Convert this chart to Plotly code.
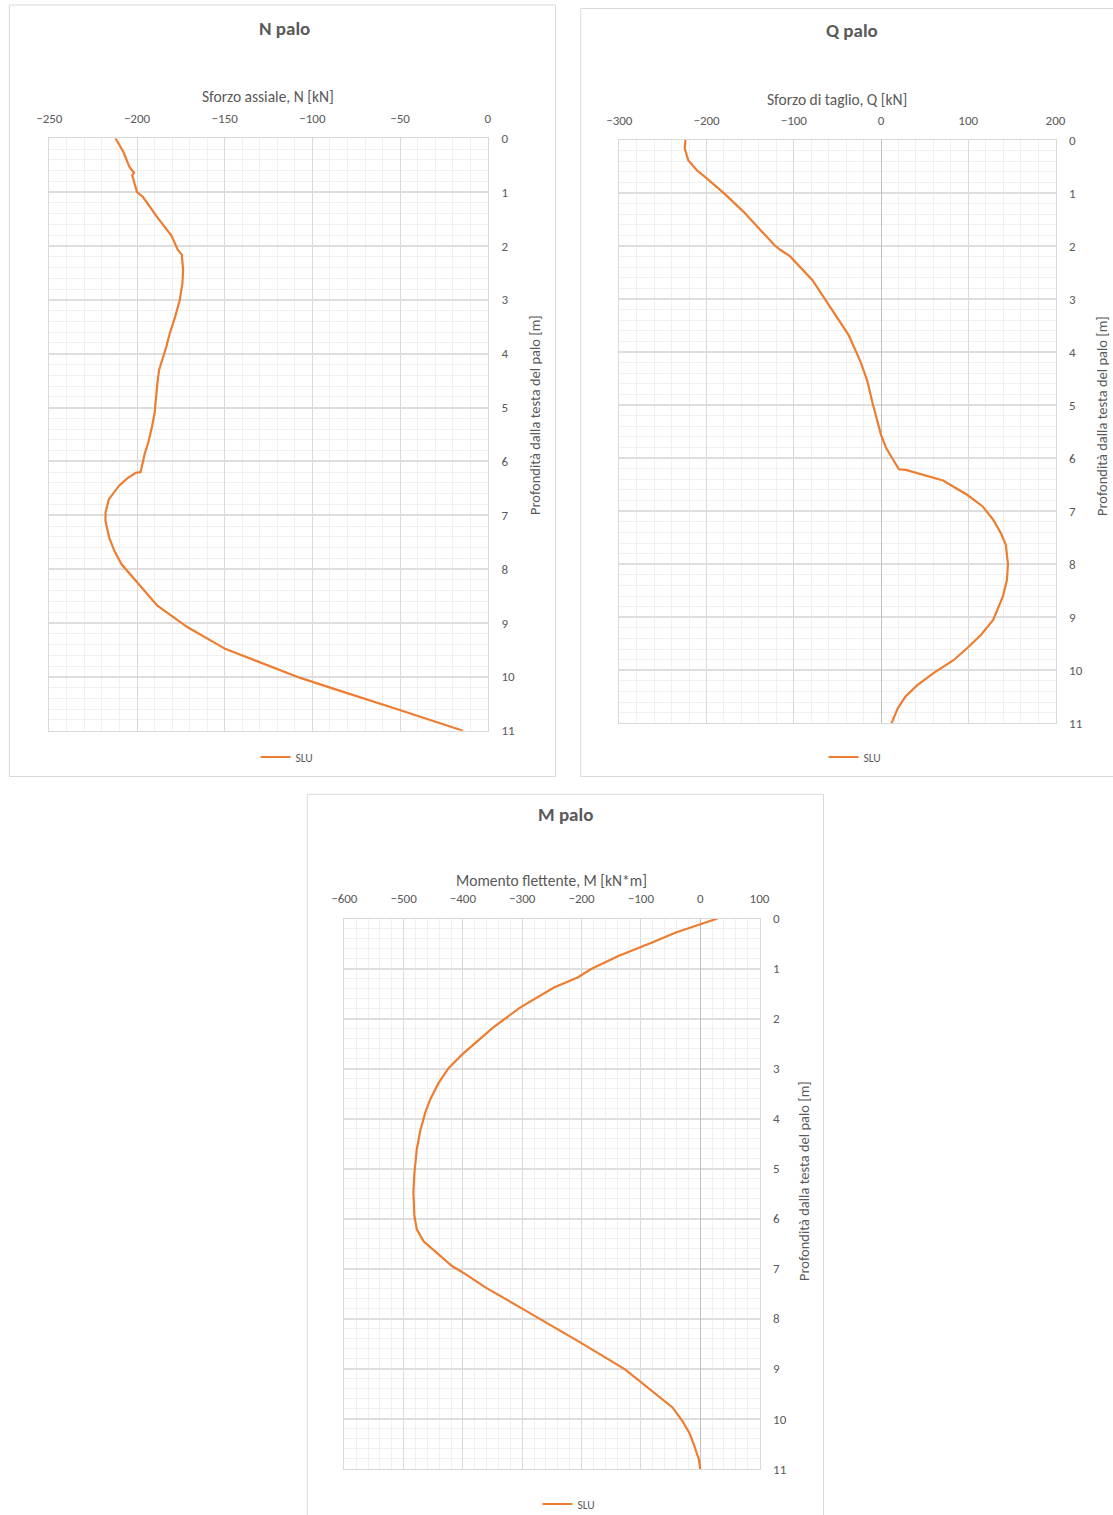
import plotly.graph_objects as go

# ---------------- data ----------------
N_depth = [0, 0.25, 0.53, 0.64, 0.69, 1.0, 1.09, 1.47, 1.81, 2.07, 2.16, 2.44, 2.69, 3.0, 3.31, 3.62,
           3.87, 4.30, 4.55, 5.11, 5.36, 5.64, 5.86, 6.20, 6.21, 6.32, 6.45, 6.70, 6.94, 7.10, 7.41,
           7.66, 7.91, 8.25, 8.68, 9.08, 9.48, 9.57, 9.76, 10.02, 10.28, 10.50, 10.62, 11.0]
N_val = [-212.3, -207.8, -204.3, -201.7, -202.7, -200.0, -196.6, -188.4, -180.3, -176.8, -174.5, -173.7,
         -174.1, -175.6, -178.2, -181.3, -183.3, -187.4, -188.4, -190.0, -191.5, -193.5, -195.6, -198.0,
         -200.7, -205.7, -210.2, -216.0, -217.9, -218.0, -215.9, -212.9, -208.8, -200.0, -188.4, -171.1,
         -149.7, -142.5, -127.2, -106.9, -82.4, -62.0, -49.8, -14.1]

Q_depth = [0, 0.16, 0.38, 0.57, 0.72, 1.04, 1.35, 1.70, 1.98, 2.07, 2.19, 2.64, 2.98, 3.26, 3.67, 4.18,
           4.55, 4.96, 5.21, 5.56, 5.81, 6.03, 6.21, 6.22, 6.31, 6.42, 6.69, 6.91, 7.16, 7.42, 7.64, 8.0,
           8.30, 8.61, 9.05, 9.33, 9.58, 9.81, 10.04, 10.28, 10.50, 10.72, 11.0]
Q_val = [-224.2, -225.0, -221.0, -211.1, -200.0, -177.6, -157.8, -138.1, -122.3, -115.6, -104.5, -78.8,
         -65.0, -53.2, -37.4, -23.5, -15.6, -9.7, -5.7, 0.0, 5.9, 13.8, 20.5, 28.4, 47.4, 71.1, 98.7,
         116.5, 128.5, 137.6, 143.1, 145.5, 144.3, 139.6, 128.5, 114.7, 98.9, 83.1, 61.4, 41.6, 27.8,
         19.1, 12.0]

M_depth = [0, 0.11, 0.28, 0.48, 0.75, 1.01, 1.18, 1.38, 1.58, 1.78, 2.18, 2.41, 2.71, 2.98, 3.28, 3.61,
           3.88, 4.25, 4.61, 5.08, 5.48, 5.95, 6.21, 6.45, 6.71, 6.95, 7.11, 7.38, 7.81, 8.35, 8.48,
           9.01, 9.77, 10.05, 10.28, 10.55, 10.81, 11.0]
M_val = [29.2, 0.0, -41.0, -81.0, -138.0, -183.8, -206.6, -246.6, -275.1, -303.7, -349.3, -372.2, -400.7,
         -423.6, -440.7, -455.0, -463.5, -472.1, -477.8, -481.8, -483.5, -481.8, -477.8, -466.4, -440.7,
         -417.9, -395.0, -360.8, -297.9, -218.0, -200.9, -126.7, -46.7, -29.6, -18.2, -9.6, -2.2, 0.0]

titles = ["N palo", "Q palo", "M palo"]
x_titles = ["Sforzo assiale, N [kN]", "Sforzo di taglio, Q [kN]", "Momento flettente, M [kN*m]"]
y_title = "Profondità dalla testa del palo [m]"
series_name = "SLU"

# ---------------- layout helpers ----------------
W, H = 1113, 1515
FONT = "Calibri, Carlito, Lato, sans-serif"
GRAY = "#595959"
ORANGE = "#ED7D31"


def px(x):
    return x / W


def py(y):
    return 1 - y / H


charts = [
    dict(depth=N_depth, val=N_val, xr=[-250, 0], dt=50, mdt=10,
         plot=(49.3, 487.8, 138.3, 730.7), box=(9.3, 555.5, 5, 776.5),
         title=(284, 29), xtitle=(268, 96), ytitle=(535, 415), leg=(287, 757)),
    dict(depth=Q_depth, val=Q_val, xr=[-300, 200], dt=100, mdt=20,
         plot=(619.3, 1055.5, 140, 723.3), box=(580.7, 1120, 8.5, 776.5),
         title=(852, 31), xtitle=(837, 99), ytitle=(1102, 416), leg=(855, 757)),
    dict(depth=M_depth, val=M_val, xr=[-600, 100], dt=100, mdt=20,
         plot=(344.3, 759.5, 918.5, 1469), box=(307.3, 823.5, 794.3, 1530),
         title=(565, 815), xtitle=(551, 880), ytitle=(804, 1181), leg=(569, 1504)),
]

fig = go.Figure()
shapes = []
annotations = []
layout_extra = {}

for i, c in enumerate(charts):
    n = i + 1
    xa = "x" if n == 1 else f"x{n}"
    ya = "y" if n == 1 else f"y{n}"
    leg = "legend" if n == 1 else f"legend{n}"

    fig.add_trace(go.Scatter(
        x=c["val"], y=c["depth"], mode="lines", name=series_name,
        line=dict(color=ORANGE, width=2.2), xaxis=xa, yaxis=ya, legend=leg,
        showlegend=True))

    x0, x1, y0, y1 = c["plot"]
    layout_extra[f"xaxis{'' if n == 1 else n}"] = dict(
        domain=[px(x0), px(x1)], anchor=ya, side="top", range=c["xr"],
        tick0=c["xr"][0], dtick=c["dt"], ticks="", ticklabelstandoff=9,
        tickfont=dict(family=FONT, size=13, color=GRAY), automargin=False,
        showgrid=True, gridcolor="#d9d9d9", gridwidth=1,
        minor=dict(dtick=c["mdt"], showgrid=True, gridcolor="#f0f0f0", gridwidth=1),
        zeroline=True, zerolinecolor="#bfbfbf", zerolinewidth=1,
        showline=True, linecolor="#d9d9d9", linewidth=1, mirror=True,
        fixedrange=True)
    layout_extra[f"yaxis{'' if n == 1 else n}"] = dict(
        domain=[py(y1), py(y0)], anchor=xa, side="right", range=[11, 0],
        tick0=0, dtick=1, ticks="", ticklabelstandoff=10,
        tickfont=dict(family=FONT, size=13, color=GRAY), automargin=False,
        showgrid=True, gridcolor="#dedede", gridwidth=1.6,
        minor=dict(dtick=0.2, showgrid=True, gridcolor="#f0f0f0", gridwidth=1),
        zeroline=False,
        showline=True, linecolor="#d9d9d9", linewidth=1, mirror=True,
        fixedrange=True)
    layout_extra[leg] = dict(
        x=px(c["leg"][0]), y=py(c["leg"][1]), xanchor="center", yanchor="middle",
        orientation="h", bgcolor="rgba(0,0,0,0)",
        font=dict(family=FONT, size=11.5, color=GRAY), itemwidth=30)

    bx0, bx1, by0, by1 = c["box"]
    shapes.append(dict(type="rect", xref="paper", yref="paper",
                       x0=px(bx0), x1=px(bx1), y0=py(by1), y1=py(by0),
                       line=dict(color="#d9d9d9", width=1), fillcolor="rgba(0,0,0,0)",
                       layer="below"))

    annotations.append(dict(text=f"<b>{titles[i]}</b>", xref="paper", yref="paper",
                            x=px(c["title"][0]), y=py(c["title"][1]),
                            xanchor="center", yanchor="middle", showarrow=False,
                            font=dict(family=FONT, size=19, color=GRAY)))
    annotations.append(dict(text=x_titles[i], xref="paper", yref="paper",
                            x=px(c["xtitle"][0]), y=py(c["xtitle"][1]),
                            xanchor="center", yanchor="middle", showarrow=False,
                            font=dict(family=FONT, size=15.5, color=GRAY)))
    annotations.append(dict(text=y_title, xref="paper", yref="paper",
                            x=px(c["ytitle"][0]), y=py(c["ytitle"][1]),
                            xanchor="center", yanchor="middle", showarrow=False,
                            textangle=-90,
                            font=dict(family=FONT, size=14.5, color=GRAY)))

fig.update_layout(
    width=W, height=H, margin=dict(l=0, r=0, t=0, b=0, autoexpand=False),
    paper_bgcolor="white", plot_bgcolor="white",
    shapes=shapes, annotations=annotations, showlegend=True,
    **layout_extra)

fig.write_html("out.html", config={"displayModeBar": False},
               post_script="document.body.style.margin='0';document.body.style.padding='0';"
                           "document.documentElement.style.overflow='hidden';")
